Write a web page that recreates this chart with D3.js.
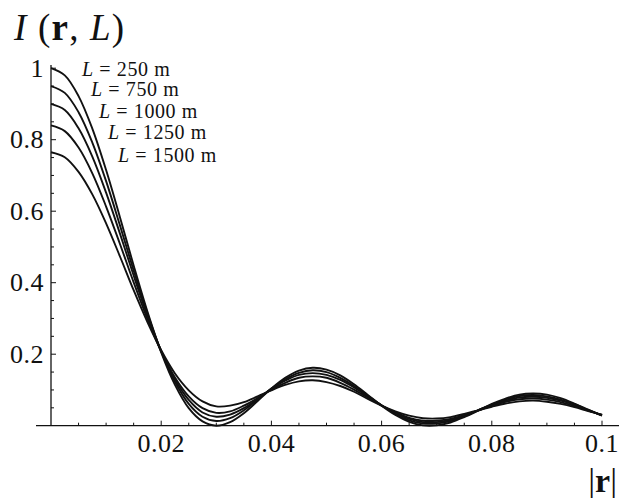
<!DOCTYPE html>
<html>
<head>
<meta charset="utf-8">
<script src="https://cdn.jsdelivr.net/npm/d3@7"></script>
<style>
  html, body { margin: 0; padding: 0; background: #fff; }
  svg { display: block; font-family: "Liberation Serif", "DejaVu Serif", serif; }
</style>
</head>
<body>
<div id="chart"></div>
<script>
// |r| sample points, step 0.0025
const radius = d3.range(41).map((i) => i * 0.0025);

const seriesNames = ["250", "750", "1000", "1250", "1500"];

const intensity250 = [1.0, 0.98, 0.922, 0.831, 0.715, 0.584, 0.448, 0.319, 0.205, 0.114,
  0.049, 0.012, 0.0, 0.01, 0.035, 0.069, 0.104, 0.134, 0.154, 0.162,
  0.157, 0.141, 0.116, 0.086, 0.056, 0.03, 0.011, 0.001, 0.001, 0.009,
  0.024, 0.042, 0.061, 0.076, 0.087, 0.09, 0.087, 0.077, 0.062, 0.045, 0.028];

const intensity750 = [0.95, 0.931, 0.877, 0.792, 0.684, 0.561, 0.434, 0.314, 0.208, 0.123,
  0.061, 0.025, 0.013, 0.021, 0.043, 0.073, 0.104, 0.13, 0.148, 0.155,
  0.15, 0.134, 0.111, 0.084, 0.057, 0.033, 0.015, 0.006, 0.006, 0.013,
  0.026, 0.043, 0.059, 0.073, 0.083, 0.086, 0.082, 0.073, 0.06, 0.044, 0.029];

const intensity1000 = [0.9, 0.883, 0.832, 0.753, 0.652, 0.538, 0.42, 0.308, 0.209, 0.129,
  0.072, 0.037, 0.025, 0.031, 0.049, 0.075, 0.103, 0.126, 0.142, 0.147,
  0.142, 0.128, 0.107, 0.082, 0.057, 0.035, 0.019, 0.01, 0.01, 0.016,
  0.028, 0.043, 0.058, 0.07, 0.079, 0.081, 0.078, 0.07, 0.058, 0.043, 0.029];

const intensity1250 = [0.84, 0.824, 0.778, 0.706, 0.613, 0.509, 0.401, 0.299, 0.208, 0.135,
  0.082, 0.049, 0.036, 0.04, 0.056, 0.077, 0.101, 0.12, 0.134, 0.138,
  0.134, 0.12, 0.101, 0.079, 0.056, 0.037, 0.022, 0.014, 0.014, 0.019,
  0.03, 0.042, 0.056, 0.067, 0.074, 0.076, 0.073, 0.066, 0.055, 0.042, 0.03];

const intensity1500 = [0.765, 0.751, 0.71, 0.647, 0.566, 0.474, 0.379, 0.29, 0.211, 0.146,
  0.099, 0.068, 0.054, 0.056, 0.066, 0.082, 0.099, 0.114, 0.124, 0.127,
  0.122, 0.111, 0.095, 0.075, 0.056, 0.04, 0.028, 0.021, 0.02, 0.024,
  0.033, 0.043, 0.053, 0.062, 0.068, 0.07, 0.067, 0.061, 0.052, 0.041, 0.031];

const allSeries = [intensity250, intensity750, intensity1000, intensity1250, intensity1500];

const xTicks = [0.02, 0.04, 0.06, 0.08, 0.1];
const xTickLabels = ["0.02", "0.04", "0.06", "0.08", "0.1"];
const yTicks = [0.2, 0.4, 0.6, 0.8, 1];
const yTickLabels = ["0.2", "0.4", "0.6", "0.8", "1"];

const width = 619;
const height = 498;

const svg = d3.select("#chart")
  .append("svg")
  .attr("width", width)
  .attr("height", height);

const x = d3.scaleLinear().domain([0, 0.1]).range([51, 602]);
const y = d3.scaleLinear().domain([0, 1]).range([425.7, 68.2]);

// axes lines
svg.append("line")
  .attr("x1", 36).attr("x2", width)
  .attr("y1", y(0)).attr("y2", y(0))
  .attr("stroke", "#111").attr("stroke-width", 1.3);

svg.append("line")
  .attr("x1", x(0)).attr("x2", x(0))
  .attr("y1", y(0)).attr("y2", 65)
  .attr("stroke", "#111").attr("stroke-width", 1.3);

// ticks (inward, Mathematica style)
const xMinor = d3.range(1, 21).map((i) => i * 0.005);
svg.append("g")
  .selectAll("line")
  .data(xMinor)
  .enter()
  .append("line")
  .attr("x1", (d) => x(d)).attr("x2", (d) => x(d))
  .attr("y1", y(0))
  .attr("y2", (d, i) => y(0) - ((i + 1) % 4 === 0 ? 5 : 3))
  .attr("stroke", "#111").attr("stroke-width", 1);

const yMinor = d3.range(1, 21).map((i) => i * 0.05);
svg.append("g")
  .selectAll("line")
  .data(yMinor)
  .enter()
  .append("line")
  .attr("y1", (d) => y(d)).attr("y2", (d) => y(d))
  .attr("x1", x(0))
  .attr("x2", (d, i) => x(0) + ((i + 1) % 4 === 0 ? 5 : 3))
  .attr("stroke", "#111").attr("stroke-width", 1);

svg.append("g")
  .selectAll("text")
  .data(xTicks)
  .enter()
  .append("text")
  .attr("x", (d) => x(d))
  .attr("y", 452)
  .attr("text-anchor", "middle")
  .attr("font-size", 26)
  .attr("letter-spacing", 0.5)
  .attr("fill", "#111")
  .text((d, i) => xTickLabels[i]);

svg.append("g")
  .selectAll("text")
  .data(yTicks)
  .enter()
  .append("text")
  .attr("x", 44)
  .attr("y", (d) => y(d) + 8.5)
  .attr("text-anchor", "end")
  .attr("font-size", 26)
  .attr("letter-spacing", 0.5)
  .attr("fill", "#111")
  .text((d, i) => yTickLabels[i]);

// curves
const line = d3.line()
  .x((d, i) => x(radius[i]))
  .y((d) => y(d))
  .curve(d3.curveCatmullRom.alpha(0.5));

svg.append("g")
  .selectAll("path")
  .data(allSeries)
  .enter()
  .append("path")
  .attr("d", line)
  .attr("fill", "none")
  .attr("stroke", "#111")
  .attr("stroke-width", 1.9);

// curve labels
const labelX = [82, 91, 99, 108, 118];
const labelY = [76, 96, 117.5, 138.5, 162];

const labels = svg.append("g")
  .selectAll("text")
  .data(seriesNames)
  .enter()
  .append("text")
  .attr("x", (d, i) => labelX[i])
  .attr("y", (d, i) => labelY[i])
  .attr("font-size", 20)
  .attr("letter-spacing", 0.6)
  .attr("fill", "#111");

labels.append("tspan").attr("font-style", "italic").text("L");
labels.append("tspan").text((d) => " = " + d + " m");

// axis titles
const title = svg.append("text")
  .attr("x", 14)
  .attr("y", 40)
  .attr("font-size", 37)
  .attr("letter-spacing", 1.2)
  .attr("fill", "#111");
title.append("tspan").attr("font-style", "italic").text("I");
title.append("tspan").text(" (");
title.append("tspan").attr("font-weight", "bold").text("r");
title.append("tspan").text(", ");
title.append("tspan").attr("font-style", "italic").text("L");
title.append("tspan").text(")");

const xTitle = svg.append("text")
  .attr("x", 617)
  .attr("y", 492)
  .attr("text-anchor", "end")
  .attr("font-size", 34)
  .attr("fill", "#111");
xTitle.append("tspan").text("|");
xTitle.append("tspan").attr("font-weight", "bold").text("r");
xTitle.append("tspan").text("|");
</script>
</body>
</html>
